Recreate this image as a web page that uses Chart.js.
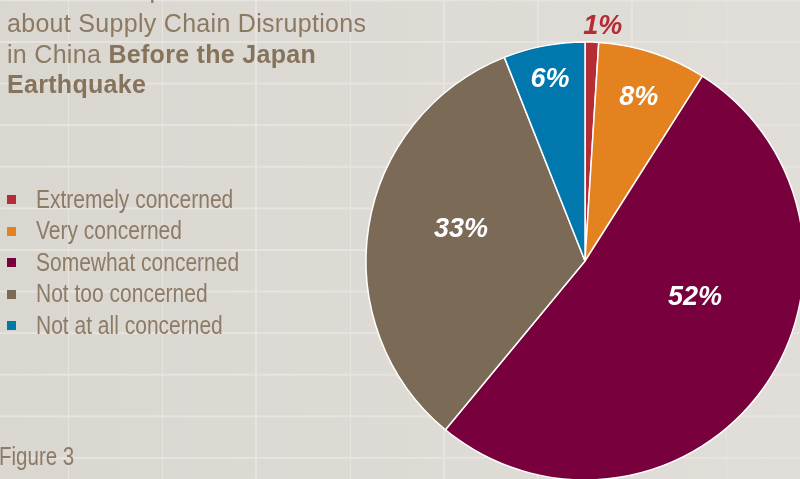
<!DOCTYPE html>
<html>
<head>
<meta charset="utf-8">
<script src="https://cdn.jsdelivr.net/npm/chart.js@4.4.1/dist/chart.umd.min.js"></script>
<style>
  html, body { margin: 0; padding: 0; }
  body {
    width: 800px;
    height: 479px;
    overflow: hidden;
    position: relative;
    background-color: #dcd8d3;
    background-image:
      linear-gradient(to right, #e7e4e0 2px, transparent 2px),
      linear-gradient(to bottom, #e7e4e0 2px, transparent 2px),
      linear-gradient(to right, #dad6d0, #e1ded9);
    background-size: 94px 41.6px, 94px 41.6px, 100% 100%;
    background-position: 67px 41px, 67px 41px, 0 0;
    font-family: "Liberation Sans", Arial, sans-serif;
  }
  #title {
    position: absolute;
    left: 7px;
    top: -22.4px;
    font-size: 25px;
    line-height: 30.5px;
    letter-spacing: 0.3px;
    color: #8c7962;
    white-space: nowrap;
  }
  #title .cut { position: relative; top: -4px; }
  #title b { color: #86735c; }
  #legend {
    position: absolute;
    left: 0;
    top: 183.6px;
    margin: 0;
    padding: 0;
    list-style: none;
  }
  #legend li {
    position: relative;
    height: 31.6px;
    line-height: 31.6px;
    font-size: 25px;
    color: #8d7b65;
    width: 300px;
  }
  #legend .swatch {
    position: absolute;
    left: 7px;
    top: 11.4px;
    width: 9px;
    height: 9px;
  }
  #legend .txt, #caption {
    white-space: nowrap;
    transform: scaleX(0.82);
    transform-origin: 0 0;
  }
  #legend .txt { position: absolute; left: 36px; top: 0; transform: scaleX(0.84); }
  #caption {
    position: absolute;
    left: -1px;
    top: 441.3px;
    font-size: 25px;
    line-height: 30px;
    color: #8d7b65;
  }
  #wrap { position: absolute; left: 0; top: 0; width: 800px; height: 479px; }
</style>
</head>
<body>
<div id="wrap"><canvas id="pie" width="800" height="479"></canvas></div>
<div id="title"><span class="cut">Level of Respondents’ Concern</span><br>about Supply Chain Disruptions<br>in China <b>Before the Japan<br>Earthquake</b></div>
<ul id="legend"></ul>
<div id="caption">Figure 3</div>
<script>
  const labels = [
    "Extremely concerned",
    "Very concerned",
    "Somewhat concerned",
    "Not too concerned",
    "Not at all concerned",
  ];
  const shares = [1, 8, 52, 33, 6];

  const colors = ["#b42c36", "#e3821f", "#78003c", "#7b6a55", "#0077ad"];

  // where each % label sits: fraction of radius, and a turn (degrees) off the slice middle
  const labelSpots = [
    { r: 1.085, turn: 2.5, color: "#b42c36" },
    { r: 0.795, turn: 0 },
    { r: 0.526, turn: -18.8 },
    { r: 0.587, turn: 6.3 },
    { r: 0.855, turn: 0 },
  ];

  const pieLabels = {
    id: "pieLabels",
    afterDatasetsDraw(chart) {
      const ctx = chart.ctx;
      const meta = chart.getDatasetMeta(0);
      ctx.save();
      ctx.font = "italic bold 27px 'Liberation Sans', Arial, sans-serif";
      ctx.textAlign = "center";
      ctx.textBaseline = "alphabetic";
      meta.data.forEach((arc, i) => {
        const spot = labelSpots[i];
        const mid = (arc.startAngle + arc.endAngle) / 2 + (spot.turn * Math.PI) / 180;
        const rad = arc.outerRadius * spot.r;
        const x = arc.x + Math.cos(mid) * rad;
        const y = arc.y + Math.sin(mid) * rad;
        ctx.fillStyle = spot.color || "#ffffff";
        ctx.fillText(shares[i] + "%", x, y + 9.6);
      });
      ctx.restore();
    },
  };

  new Chart(document.getElementById("pie"), {
    type: "pie",
    data: {
      labels: labels,
      datasets: [
        {
          data: shares,
          backgroundColor: colors,
          borderColor: "#ffffff",
          borderWidth: 1.5,
          radius: 219,
          clip: false,
        },
      ],
    },
    options: {
      responsive: false,
      animation: false,
      events: [],
      layout: { padding: { left: 370, top: 43, right: 0, bottom: 0 } },
      plugins: {
        legend: { display: false },
        tooltip: { enabled: false },
      },
    },
    plugins: [pieLabels],
  });

  const legend = document.getElementById("legend");
  labels.forEach((label, i) => {
    const item = document.createElement("li");
    item.innerHTML = `<span class="swatch" style="background:${colors[i]}"></span><span class="txt">${label}</span>`;
    legend.appendChild(item);
  });
</script>
</body>
</html>
